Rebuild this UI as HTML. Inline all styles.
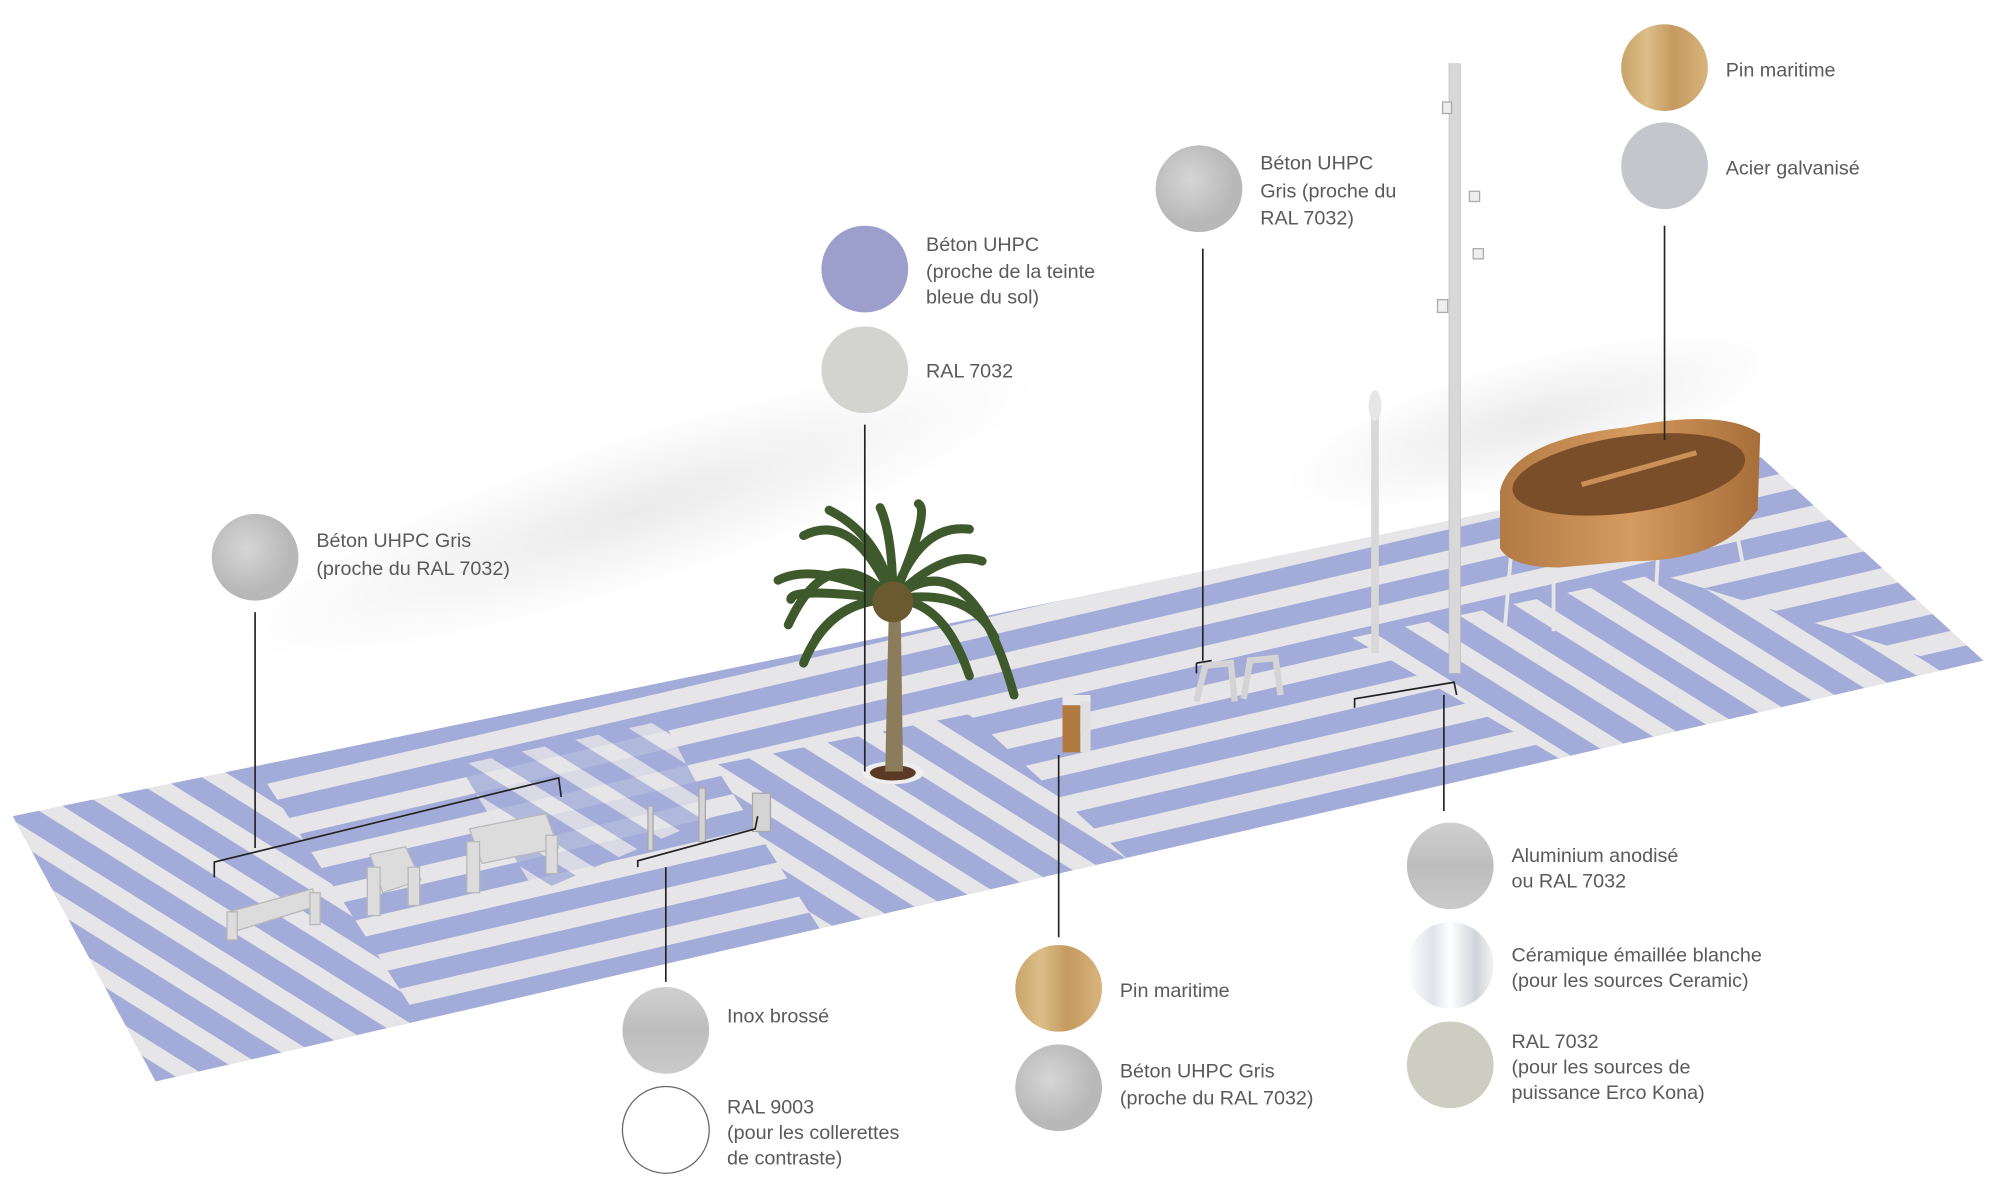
<!DOCTYPE html>
<html><head><meta charset="utf-8"><style>
html,body{margin:0;padding:0;background:#fff;}
svg{display:block}
text{font-family:"Liberation Sans",sans-serif;font-size:15.5px;fill:#5a5a5a;}
</style></head><body>
<svg width="2000" height="1200" viewBox="0 0 1568 941" preserveAspectRatio="none">
<defs>
<pattern id="pA" width="30" height="30" patternUnits="userSpaceOnUse" patternTransform="rotate(-58)">
<rect width="30" height="30" fill="#e6e6e8"/><rect width="17" height="30" fill="#a3acd8"/></pattern>
<pattern id="pB" width="30" height="30" patternUnits="userSpaceOnUse" patternTransform="rotate(-13)">
<rect width="30" height="30" fill="#e6e6e8"/><rect width="30" height="16" fill="#a3acd8"/></pattern>
<clipPath id="plaza"><polygon points="10,640 1380,358 1555,518 122,848"/></clipPath>
<radialGradient id="sh"><stop offset="0" stop-color="#000" stop-opacity=".08"/><stop offset="1" stop-color="#000" stop-opacity="0"/></radialGradient>
<radialGradient id="conc" cx=".4" cy=".4"><stop offset="0" stop-color="#d6d6d6"/><stop offset="1" stop-color="#b8b8b8"/></radialGradient>
<linearGradient id="wood" x1="0" x2="1"><stop offset="0" stop-color="#c9a46a"/><stop offset=".3" stop-color="#dcbd88"/><stop offset=".6" stop-color="#c49a60"/><stop offset="1" stop-color="#d8b47c"/></linearGradient>
<linearGradient id="brush" x1="0" y1="0" x2="0" y2="1"><stop offset="0" stop-color="#d0d0d0"/><stop offset=".5" stop-color="#bdbdbd"/><stop offset="1" stop-color="#cacaca"/></linearGradient>
<linearGradient id="cer" x1="0" x2="1"><stop offset="0" stop-color="#fff"/><stop offset=".3" stop-color="#dfe3e8"/><stop offset=".5" stop-color="#fff"/><stop offset=".8" stop-color="#cfd4da"/><stop offset="1" stop-color="#f4f4f4"/></linearGradient>
<linearGradient id="pav" x1="0" x2="1"><stop offset="0" stop-color="#b27a45"/><stop offset=".5" stop-color="#d49a5e"/><stop offset="1" stop-color="#a86e3a"/></linearGradient>
</defs>
<ellipse cx="500" cy="400" rx="330" ry="60" fill="url(#sh)" transform="rotate(-18 500 400)"/>
<ellipse cx="1200" cy="330" rx="200" ry="50" fill="url(#sh)" transform="rotate(-15 1200 330)"/>
<g clip-path="url(#plaza)">
<rect x="0" y="300" width="1568" height="600" fill="url(#pB)"/>
<polygon points="10,640 200,600 360,848 122,848" fill="url(#pA)"/>
<polygon points="560,600 760,560 1000,780 720,848" fill="url(#pA)"/>
<polygon points="1060,500 1300,450 1555,530 1300,640" fill="url(#pA)"/>
<polygon points="360,600 520,565 560,640 420,700" fill="url(#pA)" opacity=".8"/>
</g>
<ellipse cx="700" cy="606" rx="24" ry="9" fill="#eeeeee"/><ellipse cx="700" cy="606" rx="18" ry="6" fill="#5a3a25"/>
<path d="M694,605 L697,470 L706,470 L708,605Z" fill="#8b7d5c"/>
<g stroke="#3e5a2c" stroke-width="7" fill="none" stroke-linecap="round">
<path d="M700,470 Q650,420 618,490"/><path d="M700,470 Q760,420 795,545"/><path d="M700,470 Q640,440 610,455"/>
<path d="M700,470 Q690,420 650,400"/><path d="M700,470 Q720,410 760,415"/><path d="M700,470 Q760,460 780,500"/>
<path d="M700,470 Q650,470 630,520"/><path d="M700,470 Q700,420 690,398"/><path d="M700,470 Q740,430 770,440"/>
<path d="M700,470 Q670,400 630,420"/><path d="M700,470 Q740,470 760,530"/><path d="M700,470 Q660,470 640,500"/>
<path d="M700,470 Q730,400 720,395"/><path d="M700,470 Q620,460 620,470"/>
</g>
<circle cx="700" cy="472" r="16" fill="#6b5a30"/>
<g fill="#dcdcdc" stroke="#b8b8b8">
<polygon points="180,715 245,697 250,710 185,730"/><rect x="178" y="715" width="8" height="22"/><rect x="243" y="700" width="8" height="25"/>
<polygon points="290,670 318,664 330,690 300,700"/><rect x="288" y="680" width="10" height="38"/><rect x="320" y="680" width="9" height="30"/>
<polygon points="368,650 428,638 438,665 378,677"/><rect x="366" y="660" width="10" height="40"/><rect x="428" y="655" width="9" height="30"/>
</g>
<g fill="#d4d4d4" stroke="#a8a8a8"><rect x="508" y="632" width="4" height="35"/><rect x="548" y="618" width="5" height="42"/><rect x="590" y="622" width="14" height="30"/></g>
<rect x="833" y="550" width="14" height="40" fill="#b07a40"/><rect x="833" y="545" width="22" height="8" fill="#e8e8e8"/><rect x="847" y="550" width="8" height="40" fill="#e0e0e0"/>
<g fill="none" stroke="#d4d4d4" stroke-width="5"><path d="M938,550 L945,522 L965,520 L968,550"/><path d="M975,548 L980,518 L1000,516 L1004,545"/></g>
<rect x="1136" y="50" width="9" height="478" fill="#d8d8d8" stroke="#bbb" stroke-width=".5"/>
<g fill="#eee" stroke="#aaa"><rect x="1127" y="235" width="8" height="10"/><rect x="1155" y="195" width="8" height="8"/><rect x="1152" y="150" width="8" height="8"/><rect x="1131" y="80" width="7" height="9"/></g>
<rect x="1075" y="320" width="6" height="192" fill="#d8d8d8"/><ellipse cx="1078" cy="318" rx="5" ry="12" fill="#e6e6e6"/>
<g stroke="#e6e6e6" stroke-width="3"><line x1="1185" y1="430" x2="1180" y2="490"/><line x1="1218" y1="445" x2="1218" y2="495"/><line x1="1300" y1="430" x2="1298" y2="472"/><line x1="1360" y1="410" x2="1366" y2="440"/></g>
<path d="M1176,385 Q1185,345 1275,335 Q1350,320 1380,340 L1378,400 Q1350,440 1280,440 L1222,445 Q1185,445 1176,430Z" fill="url(#pav)"/>
<ellipse cx="1277" cy="372" rx="92" ry="30" fill="#7a4e28" transform="rotate(-8 1277 372)"/>
<line x1="1240" y1="380" x2="1330" y2="355" stroke="#c99058" stroke-width="4"/>
<g stroke="#222" stroke-width="1.3" fill="none">
<line x1="200" y1="480" x2="200" y2="665"/><path d="M168,688 L168,676 L438,610 L440,625"/>
<line x1="678" y1="333" x2="678" y2="605"/>
<line x1="943" y1="195" x2="943" y2="518"/><path d="M938,528 L938,520 M938,520 L950,518"/>
<line x1="1305" y1="177" x2="1305" y2="345"/>
<line x1="1132" y1="545" x2="1132" y2="636"/><path d="M1062,555 L1062,548 L1140,535 L1142,545"/>
<line x1="830" y1="592" x2="830" y2="735"/>
<line x1="522" y1="680" x2="522" y2="770"/><path d="M500,680 L500,675 L592,650 L594,640"/>
</g>
<circle cx="200" cy="437" r="34" fill="url(#conc)"/>
<circle cx="678" cy="211" r="34" fill="#9c9fcc"/>
<circle cx="678" cy="290" r="34" fill="#d3d3cf"/>
<circle cx="940" cy="148" r="34" fill="url(#conc)"/>
<circle cx="1305" cy="53" r="34" fill="url(#wood)"/>
<circle cx="1305" cy="130" r="34" fill="#c4c6cc"/>
<circle cx="1137" cy="679" r="34" fill="url(#brush)"/>
<circle cx="1137" cy="757" r="34" fill="url(#cer)"/>
<circle cx="1137" cy="835" r="34" fill="#cdcdc1"/>
<circle cx="830" cy="775" r="34" fill="url(#wood)"/>
<circle cx="830" cy="853" r="34" fill="url(#conc)"/>
<circle cx="522" cy="808" r="34" fill="url(#brush)"/>
<circle cx="522" cy="886" r="34" fill="#fff" stroke="#666" stroke-width="1"/>
<text x="248" y="429">Béton UHPC Gris</text><text x="248" y="451">(proche du RAL 7032)</text>
<text x="726" y="197">Béton UHPC</text><text x="726" y="218">(proche de la teinte</text><text x="726" y="238">bleue du sol)</text>
<text x="726" y="296">RAL 7032</text>
<text x="988" y="133">Béton UHPC</text><text x="988" y="155">Gris (proche du</text><text x="988" y="176">RAL 7032)</text>
<text x="1353" y="60">Pin maritime</text><text x="1353" y="137">Acier galvanisé</text>
<text x="1185" y="676">Aluminium anodisé</text><text x="1185" y="696">ou RAL 7032</text>
<text x="1185" y="754">Céramique émaillée blanche</text><text x="1185" y="774">(pour les sources Ceramic)</text>
<text x="1185" y="822">RAL 7032</text><text x="1185" y="842">(pour les sources de</text><text x="1185" y="862"> puissance Erco Kona)</text>
<text x="878" y="782">Pin maritime</text>
<text x="878" y="845">Béton UHPC Gris</text><text x="878" y="866">(proche du RAL 7032)</text>
<text x="570" y="802">Inox brossé</text>
<text x="570" y="873">RAL 9003</text><text x="570" y="893">(pour les collerettes</text><text x="570" y="913">de contraste)</text>
</svg>
</body></html>
